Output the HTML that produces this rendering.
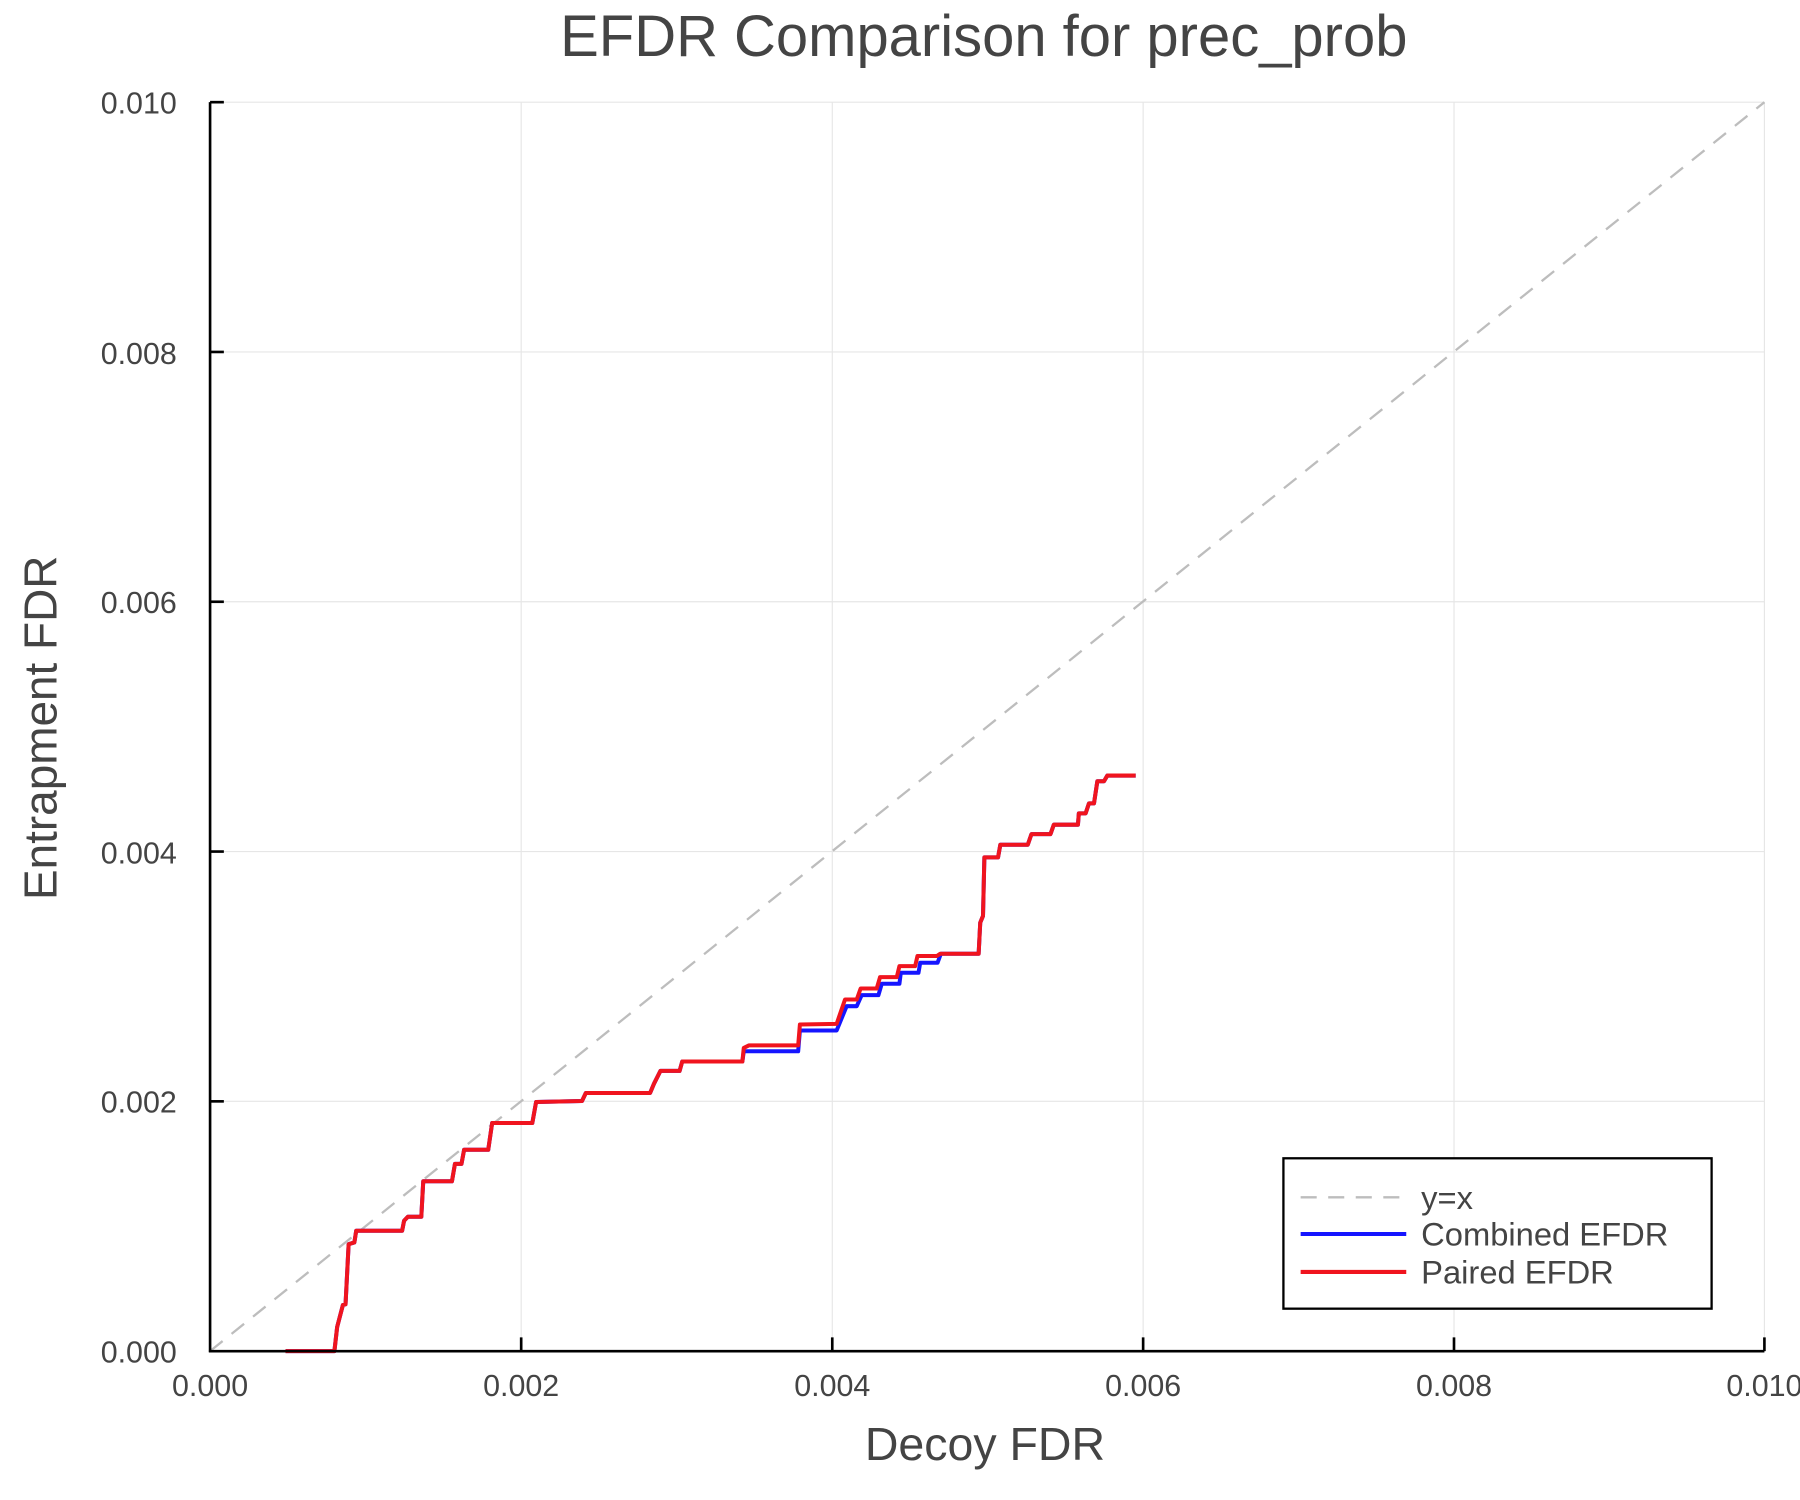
<!DOCTYPE html>
<html><head><meta charset="utf-8"><style>html,body{margin:0;padding:0;background:#fff}svg{display:block}</style></head><body>
<svg width="1800" height="1500" viewBox="0 0 1568 1306.67" xmlns="http://www.w3.org/2000/svg" font-family="Liberation Sans, sans-serif">
<rect width="1568" height="1306.67" fill="#fff"/>
<g stroke="#e6e6e6" stroke-width="1">
<line x1="454" y1="89" x2="454" y2="1177"/><line x1="725" y1="89" x2="725" y2="1177"/><line x1="995.8" y1="89" x2="995.8" y2="1177"/><line x1="1266.6" y1="89" x2="1266.6" y2="1177"/><line x1="1537" y1="89" x2="1537" y2="1177"/>
<line x1="183" y1="959.4" x2="1537" y2="959.4"/><line x1="183" y1="741.8" x2="1537" y2="741.8"/><line x1="183" y1="524.2" x2="1537" y2="524.2"/><line x1="183" y1="306.6" x2="1537" y2="306.6"/><line x1="183" y1="89" x2="1537" y2="89"/>
</g>
<line x1="183" y1="1177" x2="1537" y2="89" stroke="#bdbdbd" stroke-width="2" stroke-dasharray="14,10"/>
<polyline fill="none" stroke="#1515ff" stroke-width="3.5" stroke-linejoin="round" points="248.7,1177 291.3,1177 293.7,1156 298.7,1136.8 301,1136.2 303.7,1083.8 308.7,1082.3 310.3,1072.1 350.3,1072.1 352,1063.4 355.3,1059.9 367,1059.9 368.7,1029 393.7,1029 396.3,1013.9 402,1013.9 404.3,1001.6 425.3,1001.6 428.7,978.3 463.7,978.3 467,960 507,959.1 510.3,952.1 566.3,952.1 569.7,944 575.3,932.9 592,932.9 594.3,924.7 646.7,924.7 647.9,915.8 695.3,915.8 696.8,897.7 728.8,897.7 737.5,876.5 746.3,876.5 750.6,866.9 765.2,866.9 768.1,857 783.5,857 784.7,847.4 800.1,847.4 801.6,838.7 816.7,838.7 819.6,830.8 852.5,830.8 853.9,803.7 856.3,797.9 857.5,746.9 869.4,746.9 871.4,735.9 895.3,735.9 898.5,726.6 915.1,726.6 918,718.4 939,718.4 939.8,708.5 945.7,708.5 948.6,699.8 953,699.8 955.9,680.6 961.7,680.6 964.6,675.6 989.3,675.6"/>
<polyline fill="none" stroke="#f0141e" stroke-width="3.5" stroke-linejoin="round" points="248.7,1177 291.3,1177 293.7,1156 298.7,1136.8 301,1136.2 303.7,1083.8 308.7,1082.3 310.3,1072.1 350.3,1072.1 352,1063.4 355.3,1059.9 367,1059.9 368.7,1029 393.7,1029 396.3,1013.9 402,1013.9 404.3,1001.6 425.3,1001.6 428.7,978.3 463.7,978.3 467,960 507,959.1 510.3,952.1 566.3,952.1 569.7,944 575.3,932.9 592,932.9 594.3,924.7 646.7,924.7 647.9,912.9 652.5,910.6 695.3,910.6 696.8,892.5 728.8,891.9 736.1,870.7 746.3,870.7 749.7,861.1 763.7,861.1 766.6,851.2 781.2,851.2 783.5,841.6 797.2,841.6 799.2,832.8 816.1,832.8 819,830.8 852.5,830.8 853.9,803.7 856.3,797.9 857.5,746.9 869.4,746.9 871.4,735.9 895.3,735.9 898.5,726.6 915.1,726.6 918,718.4 939,718.4 939.8,708.5 945.7,708.5 948.6,699.8 953,699.8 955.9,680.6 961.7,680.6 964.6,675.6 989.3,675.6"/>
<g stroke="#000" stroke-width="2.3">
<line x1="183" y1="89" x2="183" y2="1178"/><line x1="182" y1="1177" x2="1537" y2="1177"/>
<line x1="454" y1="1177" x2="454" y2="1165"/><line x1="725" y1="1177" x2="725" y2="1165"/><line x1="995.8" y1="1177" x2="995.8" y2="1165"/><line x1="1266.6" y1="1177" x2="1266.6" y2="1165"/><line x1="1537" y1="1177" x2="1537" y2="1165"/>
<line x1="183" y1="959.4" x2="195" y2="959.4"/><line x1="183" y1="741.8" x2="195" y2="741.8"/><line x1="183" y1="524.2" x2="195" y2="524.2"/><line x1="183" y1="306.6" x2="195" y2="306.6"/><line x1="183" y1="89" x2="195" y2="89"/>
</g>
<g fill="#444" font-size="26.5" text-anchor="middle">
<text x="183" y="1216">0.000</text><text x="454" y="1216">0.002</text><text x="725" y="1216">0.004</text><text x="995.8" y="1216">0.006</text><text x="1266.6" y="1216">0.008</text><text x="1537" y="1216">0.010</text>
</g>
<g fill="#444" font-size="26.5" text-anchor="end">
<text x="154" y="1187">0.000</text><text x="154" y="969">0.002</text><text x="154" y="752">0.004</text><text x="154" y="534">0.006</text><text x="154" y="317">0.008</text><text x="154" y="99">0.010</text>
</g>
<text x="857" y="49" font-size="50.5" fill="#444" text-anchor="middle">EFDR Comparison for prec_prob</text>
<text x="858" y="1272" font-size="40.5" fill="#444" text-anchor="middle">Decoy FDR</text>
<text transform="translate(49,634) rotate(-90)" font-size="40" fill="#444" text-anchor="middle">Entrapment FDR</text>
<rect x="1118" y="1009" width="373" height="131" fill="#fff" stroke="#000" stroke-width="2"/>
<line x1="1133" y1="1043" x2="1225" y2="1043" stroke="#bdbdbd" stroke-width="2" stroke-dasharray="14,10"/>
<line x1="1133" y1="1075" x2="1225" y2="1075" stroke="#1515ff" stroke-width="3.5"/>
<line x1="1133" y1="1108" x2="1225" y2="1108" stroke="#f0141e" stroke-width="3.5"/>
<g fill="#444" font-size="28.5">
<text x="1238" y="1053">y=x</text><text x="1238" y="1085">Combined EFDR</text><text x="1238" y="1118">Paired EFDR</text>
</g>
</svg>
</body></html>
